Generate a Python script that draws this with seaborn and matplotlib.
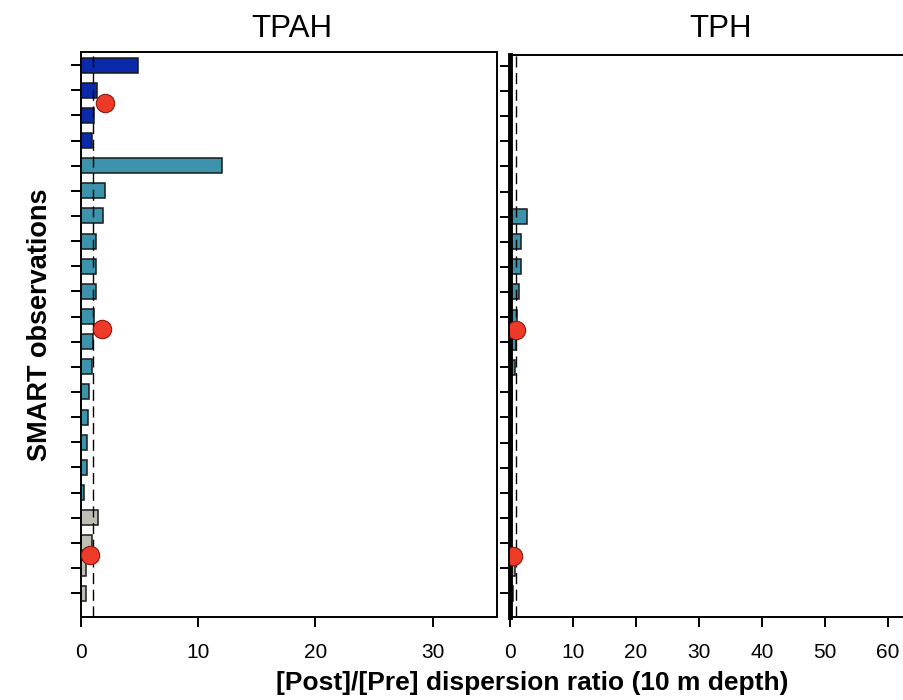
import matplotlib
matplotlib.use("Agg")
import matplotlib.pyplot as plt
import seaborn as sns
import pandas as pd

# ---- data ----
observations = [str(i) for i in range(1, 23)]
groups = ["A"] * 4 + ["B"] * 14 + ["C"] * 4
tpah_ratio = [4.9, 1.34, 1.14, 0.9, 12.0, 2.07, 1.9, 1.25, 1.25, 1.25, 1.14,
              1.0, 0.91, 0.71, 0.62, 0.54, 0.54, 0.26, 1.48, 0.91, 0.43, 0.43]
tph_ratio = [0.0, 0.0, 0.0, 0.0, 0.0, 0.0, 2.75, 1.7, 1.7, 1.5, 1.16,
             0.95, 0.85, 0.37, 0.37, 0.37, 0.05, 0.05, 0.05, 0.05, 0.8, 0.43]
tpah_dot_pos = [1.5, 10.5, 19.5]
tpah_dot_val = [2.05, 1.76, 0.77]
tph_dot_pos = [10.5, 19.5]
tph_dot_val = [0.9, 0.43]
panel_titles = ["TPAH", "TPH"]
xticks_left = [0, 10, 20, 30]
xticks_right = [0, 10, 20, 30, 40, 50, 60]

palette = {"A": "#0B2AAA", "B": "#3C93AB", "C": "#BEBEB5"}

sns.set_theme(style="white")
plt.rcParams["font.family"] = ["Liberation Sans", "DejaVu Sans"]
plt.rcParams["text.color"] = "black"
plt.rcParams["axes.labelcolor"] = "black"
plt.rcParams["xtick.color"] = "black"
plt.rcParams["ytick.color"] = "black"

fig = plt.figure(figsize=(9.04, 7.0), dpi=100)
ax1 = fig.add_axes([81 / 904, 1 - 617 / 700, (497 - 81) / 904, (617 - 52) / 700])
ax2 = fig.add_axes([510 / 904, 1 - 617 / 700, (919.5 - 510) / 904, (617 - 55) / 700])

df = pd.DataFrame({"obs": observations, "grp": groups,
                   "TPAH": tpah_ratio, "TPH": tph_ratio})

for ax, col, dpos, dval, xt, xlim, ytop in [
        (ax1, "TPAH", tpah_dot_pos, tpah_dot_val, xticks_left, (0, 35.5), -0.52),
        (ax2, "TPH", tph_dot_pos, tph_dot_val, xticks_right, (0, 65), -0.44)]:
    sns.barplot(data=df, x=col, y="obs", hue="grp", palette=palette, dodge=False,
                orient="h", width=0.6, edgecolor="#1a1a1a", linewidth=1.1,
                saturation=1, legend=False, ax=ax, order=observations)
    ax.axvline(1, color="black", lw=1.0, ls=(0, (8, 4)), zorder=3)
    sns.scatterplot(x=dval, y=dpos, ax=ax, s=175, color="#EE3A28",
                    edgecolor="#8a1a10", linewidth=0.8, zorder=5, legend=False)
    ax.set_xlim(*xlim)
    ax.set_ylim(21.95, ytop)
    ax.set_xticks(xt)
    ax.set_xticklabels([str(v) for v in xt], fontsize=15)
    ax.set_yticks(range(len(observations)))
    ax.set_yticklabels([])
    ax.set_xlabel("")
    ax.set_ylabel("")
    ax.tick_params(axis="both", direction="out", length=7, width=1.4,
                   color="black", labelcolor="black", bottom=True, left=True, pad=12)
    for s in ax.spines.values():
        s.set_color("black")
        s.set_linewidth(1.4)

ax2.spines["left"].set_linewidth(3.5)
ax2.spines["right"].set_visible(False)

fig.text(292 / 904, 1 - 29 / 700, panel_titles[0], ha="center", va="center",
         fontsize=22.5, color="black")
fig.text(721 / 904, 1 - 29 / 700, panel_titles[1], ha="center", va="center",
         fontsize=22.5, color="black")

fig.text(40 / 904, 1 - 325 / 700, "SMART observations", rotation=90,
         ha="center", va="center", fontsize=19.5, fontweight="bold", color="black")
fig.text(532 / 904, 1 - 683 / 700, "[Post]/[Pre] dispersion ratio (10 m depth)",
         ha="center", va="center", fontsize=19, fontweight="bold", color="black")

fig.savefig("out.png", dpi=100)
